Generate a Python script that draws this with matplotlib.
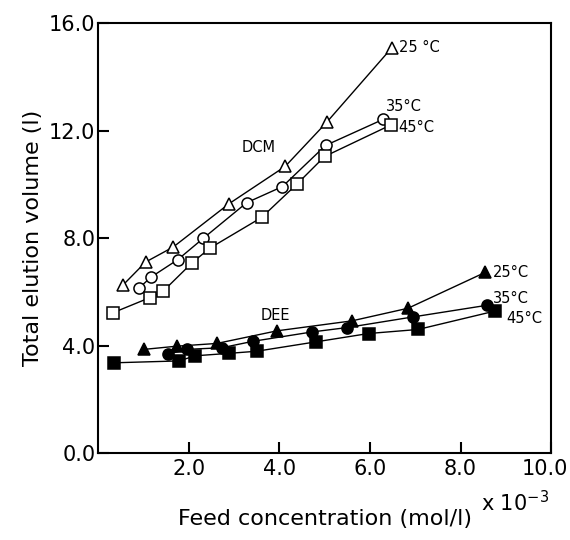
import matplotlib
matplotlib.use("Agg")
import matplotlib.pyplot as plt
from matplotlib.transforms import ScaledTranslation

# DCM (open markers)
dcm25_x = [0.56, 1.05, 1.66, 2.89, 4.13, 5.05, 6.48]
dcm25_y = [6.27, 7.11, 7.67, 9.28, 10.67, 12.32, 15.08]
dcm35_x = [0.91, 1.17, 1.76, 2.32, 3.28, 4.07, 5.02, 6.29]
dcm35_y = [6.15, 6.55, 7.20, 7.99, 9.32, 9.92, 11.45, 12.42]
dcm45_x = [0.34, 1.15, 1.44, 2.08, 2.47, 3.61, 4.40, 5.00, 6.47]
dcm45_y = [5.23, 5.79, 6.03, 7.09, 7.63, 8.77, 10.03, 11.04, 12.22]

# DEE (filled markers)
dee25_x = [1.02, 1.75, 2.62, 3.95, 5.60, 6.84, 8.55]
dee25_y = [3.86, 3.98, 4.08, 4.55, 4.92, 5.39, 6.73]
dee35_x = [1.55, 1.96, 2.73, 3.42, 4.73, 5.49, 6.96, 8.58]
dee35_y = [3.68, 3.86, 3.92, 4.16, 4.51, 4.67, 5.07, 5.50]
dee45_x = [0.36, 1.79, 2.14, 2.88, 3.50, 4.81, 5.97, 7.06, 8.77]
dee45_y = [3.36, 3.43, 3.62, 3.71, 3.79, 4.14, 4.45, 4.60, 5.29]

x_ticks = [2.0, 4.0, 6.0, 8.0, 10.0]
y_ticks = [0.0, 4.0, 8.0, 12.0, 16.0]

plt.rcParams['font.family'] = ['DejaVu Sans']

fig = plt.figure(figsize=(5.7, 5.4), dpi=100)
ax = fig.add_axes([0.172, 0.161, 0.795, 0.796])

line_kw = dict(color='black', lw=1.0, ms=8, mew=1.1)
ax.plot(dcm25_x, dcm25_y, marker='^', mfc='white', mec='black', **line_kw)
ax.plot(dcm35_x, dcm35_y, marker='o', mfc='white', mec='black', **line_kw)
ax.plot(dcm45_x, dcm45_y, marker='s', mfc='white', mec='black', **line_kw)
ax.plot(dee25_x, dee25_y, marker='^', mfc='black', mec='black', **line_kw)
ax.plot(dee35_x, dee35_y, marker='o', mfc='black', mec='black', **line_kw)
ax.plot(dee45_x, dee45_y, marker='s', mfc='black', mec='black', **line_kw)

# series labels
lab = dict(fontsize=10.5, color='black')
ax.text(6.65, 15.08, '25 °C', va='center', ha='left', **lab)
ax.text(6.35, 12.9, '35°C', va='center', ha='left', **lab)
ax.text(6.62, 12.1, '45°C', va='center', ha='left', **lab)
ax.text(3.55, 11.37, 'DCM', va='center', ha='center', **lab)
ax.text(3.91, 5.13, 'DEE', va='center', ha='center', **lab)
ax.text(8.72, 6.73, '25°C', va='center', ha='left', **lab)
ax.text(8.72, 5.75, '35°C', va='center', ha='left', **lab)
ax.text(9.0, 5.0, '45°C', va='center', ha='left', **lab)

ax.set_xlim(0, 10)
ax.set_ylim(0, 16)
ax.set_xticks(x_ticks)
ax.set_xticklabels([f'{v:.1f}' for v in x_ticks])
ax.set_yticks(y_ticks)
ax.set_yticklabels([f'{v:.1f}' for v in y_ticks])
ax.tick_params(direction='in', length=8, width=1.5, labelsize=15, pad=4)
ax.tick_params(axis='y', pad=2)
for s in ax.spines.values():
    s.set_linewidth(1.5)

# keep the 10.0 label inside the image
last = ax.get_xticklabels()[-1]
last.set_transform(last.get_transform() + ScaledTranslation(-6 / 100, 0, fig.dpi_scale_trans))

ax.set_xlabel('Feed concentration (mol/l)', fontsize=16, labelpad=22)
ax.set_ylabel('Total elution volume (l)', fontsize=16, labelpad=4)
ax.text(0.995, -0.085, r'x 10$^{-3}$', transform=ax.transAxes, ha='right',
        va='top', fontsize=15)

fig.savefig('out.png', dpi=100)
